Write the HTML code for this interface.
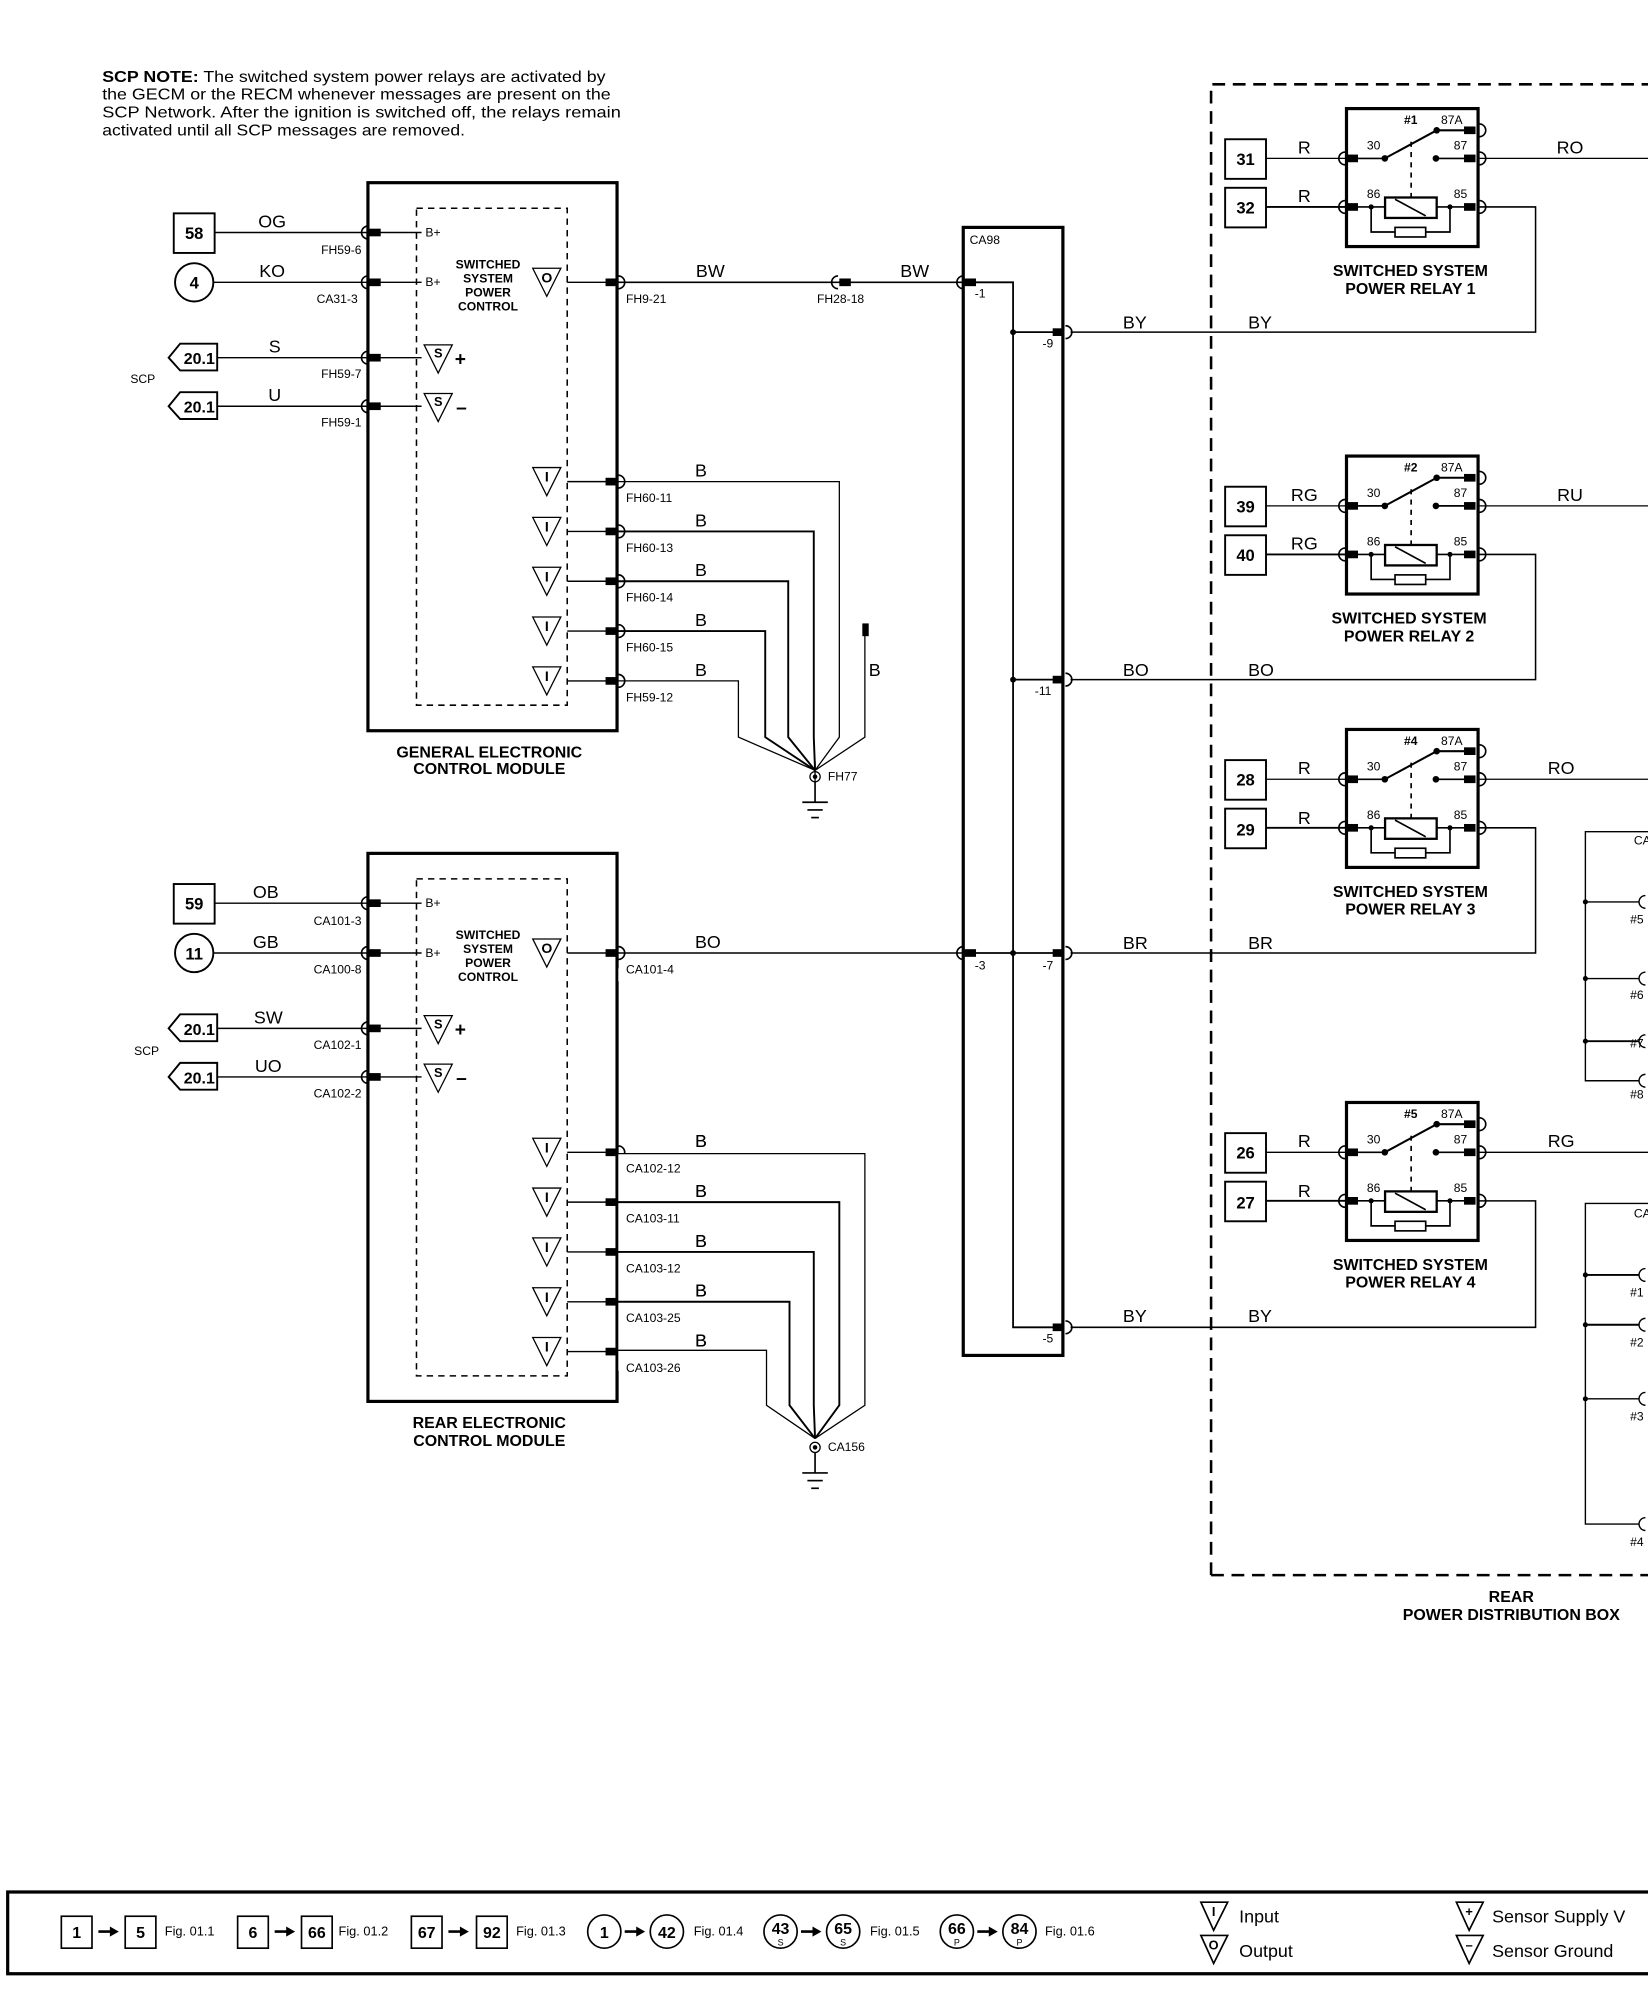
<!DOCTYPE html>
<html><head><meta charset="utf-8"><style>
html,body{margin:0;padding:0;background:#fff}
svg{display:block}
text{font-family:"Liberation Sans",Arial,sans-serif;fill:#000}
.w{font-size:14px}
.p{font-size:9.5px}
.t{font-size:12.5px;font-weight:bold}
.n{font-size:13px;font-weight:bold}
</style></head><body>
<svg width="1648" height="1998" viewBox="0 0 1290 1564" xmlns="http://www.w3.org/2000/svg">
<defs>
<g id="pl"><path d="M-1,-5 A5,5 0 0 0 -1,5" fill="none" stroke="#000" stroke-width="1.3"/><rect x="0" y="-3" width="9" height="6"/></g>
<g id="pr"><path d="M1,-5 A5,5 0 0 1 1,5" fill="none" stroke="#000" stroke-width="1.3"/><rect x="-9" y="-3" width="9" height="6"/></g>
<path id="tri" d="M-11,-11 L11,-11 L0,11 Z" fill="#fff" stroke="#000" stroke-width="1"/>
<g id="relay">
<rect x="0" y="0" width="103" height="108" fill="none" stroke="#000" stroke-width="2.5"/>
<g stroke="#000" stroke-width="1.3" fill="none">
<line x1="9" y1="39" x2="30" y2="39"/>
<line x1="30" y1="39" x2="70.6" y2="17" stroke-width="1.6"/>
<line x1="70.6" y1="17" x2="92" y2="17" stroke-width="1.6"/>
<line x1="70" y1="39" x2="92" y2="39"/>
<line x1="50.6" y1="26" x2="50.6" y2="69" stroke-dasharray="4,4"/>
<line x1="9" y1="77" x2="30" y2="77"/>
<line x1="70.6" y1="77" x2="92" y2="77"/>
<rect x="30.2" y="69.6" width="40.4" height="16" stroke-width="1.8"/>
<line x1="38" y1="71" x2="62" y2="84"/>
<polyline points="19.3,77 19.3,96.6 81,96.6 81,77"/>
<rect x="38" y="93" width="24" height="7.5" fill="#fff"/>
<path d="M-1,34 A5,5 0 0 0 -1,44 M-1,72 A5,5 0 0 0 -1,82 M104,12 A5,5 0 0 1 104,22 M104,34 A5,5 0 0 1 104,44 M104,72 A5,5 0 0 1 104,82"/>
</g>
<circle cx="30" cy="39" r="2.6"/><circle cx="70.6" cy="17" r="2.6"/><circle cx="70" cy="39" r="2.6"/>
<circle cx="19.3" cy="77" r="2"/><circle cx="81" cy="77" r="2"/>
<rect x="1" y="36" width="8" height="6"/><rect x="1" y="74" width="8" height="6"/>
<rect x="92" y="14" width="9" height="6"/><rect x="92" y="36" width="9" height="6"/><rect x="92" y="74" width="9" height="6"/>
<text class="p" x="16" y="32">30</text><text class="p" x="84" y="32">87</text>
<text class="p" x="16" y="70">86</text><text class="p" x="84" y="70">85</text>
<text class="p" x="74" y="12">87A</text>
<rect x="-95" y="24" width="32" height="31" fill="none" stroke="#000" stroke-width="1.5"/>
<rect x="-95" y="62" width="32" height="31" fill="none" stroke="#000" stroke-width="1.5"/>
<line x1="-63" y1="39" x2="0" y2="39" stroke="#000" stroke-width="1"/>
<line x1="-63" y1="77" x2="0" y2="77" stroke="#000" stroke-width="1.5"/>
<line x1="104" y1="39" x2="240" y2="39" stroke="#000" stroke-width="1"/>
</g>
<g id="gnd" stroke="#000" stroke-width="1.3"><line x1="0" y1="0" x2="0" y2="16"/><line x1="-10" y1="16" x2="10" y2="16"/><line x1="-6" y1="22" x2="6" y2="22"/><line x1="-3" y1="28" x2="3" y2="28"/></g>
</defs>

<!-- NOTE -->
<text x="80" y="64" style="font-size:12.5px" textLength="394" lengthAdjust="spacingAndGlyphs"><tspan font-weight="bold">SCP NOTE:</tspan> The switched system power relays are activated by</text>
<text x="80" y="78" style="font-size:12.5px" textLength="398" lengthAdjust="spacingAndGlyphs">the GECM or the RECM whenever messages are present on the</text>
<text x="80" y="92" style="font-size:12.5px" textLength="406" lengthAdjust="spacingAndGlyphs">SCP Network.  After the ignition is switched off, the relays remain</text>
<text x="80" y="106" style="font-size:12.5px" textLength="284" lengthAdjust="spacingAndGlyphs">activated until all SCP messages are removed.</text>

<!-- ===== GECM ===== -->
<g id="gecm">
<rect x="288" y="143" width="195" height="429" fill="none" stroke="#000" stroke-width="2.5"/>
<rect x="326" y="163" width="118" height="389" fill="none" stroke="#000" stroke-width="1.2" stroke-dasharray="5,4"/>
<g stroke="#000" stroke-width="1.1">
<line x1="168" y1="182" x2="330" y2="182"/>
<line x1="167" y1="221" x2="330" y2="221"/>
<line x1="170" y1="280" x2="330" y2="280"/>
<line x1="170" y1="318" x2="330" y2="318"/>
<line x1="444" y1="221" x2="481" y2="221"/>
<line x1="444" y1="377" x2="481" y2="377"/>
<line x1="444" y1="416" x2="481" y2="416"/>
<line x1="444" y1="455" x2="481" y2="455"/>
<line x1="444" y1="494" x2="481" y2="494"/>
<line x1="444" y1="533" x2="481" y2="533"/>
</g>
<use href="#pl" x="289" y="182"/><use href="#pl" x="289" y="221"/><use href="#pl" x="289" y="280"/><use href="#pl" x="289" y="318"/>
<use href="#pr" x="483" y="221"/><use href="#pr" x="483" y="377"/><use href="#pr" x="483" y="416"/><use href="#pr" x="483" y="455"/><use href="#pr" x="483" y="494"/><use href="#pr" x="483" y="533"/>
<text class="p" x="333" y="185">B+</text><text class="p" x="333" y="224">B+</text>
<text class="p" x="382" y="210" text-anchor="middle" font-weight="bold">SWITCHED</text>
<text class="p" x="382" y="221" text-anchor="middle" font-weight="bold">SYSTEM</text>
<text class="p" x="382" y="232" text-anchor="middle" font-weight="bold">POWER</text>
<text class="p" x="382" y="243" text-anchor="middle" font-weight="bold">CONTROL</text>
<use href="#tri" x="428" y="221"/><text x="428" y="221" text-anchor="middle" style="font-size:11px;font-weight:bold">O</text>
<use href="#tri" x="343" y="281"/><text x="343" y="280" text-anchor="middle" style="font-size:10px;font-weight:bold">S</text><text x="356" y="286" style="font-size:15px;font-weight:bold">+</text>
<use href="#tri" x="343" y="319"/><text x="343" y="318" text-anchor="middle" style="font-size:10px;font-weight:bold">S</text><text x="357" y="324" style="font-size:15px;font-weight:bold">–</text>
<use href="#tri" x="428" y="377"/><text x="428" y="377" text-anchor="middle" style="font-size:11px;font-weight:bold">I</text>
<use href="#tri" x="428" y="416"/><text x="428" y="416" text-anchor="middle" style="font-size:11px;font-weight:bold">I</text>
<use href="#tri" x="428" y="455"/><text x="428" y="455" text-anchor="middle" style="font-size:11px;font-weight:bold">I</text>
<use href="#tri" x="428" y="494"/><text x="428" y="494" text-anchor="middle" style="font-size:11px;font-weight:bold">I</text>
<use href="#tri" x="428" y="533"/><text x="428" y="533" text-anchor="middle" style="font-size:11px;font-weight:bold">I</text>
<text class="p" x="490" y="237">FH9-21</text>
<text class="p" x="490" y="393">FH60-11</text>
<text class="p" x="490" y="432">FH60-13</text>
<text class="p" x="490" y="471">FH60-14</text>
<text class="p" x="490" y="510">FH60-15</text>
<text class="p" x="490" y="549">FH59-12</text>
<text class="w" x="544" y="373">B</text><text class="w" x="544" y="412">B</text><text class="w" x="544" y="451">B</text><text class="w" x="544" y="490">B</text><text class="w" x="544" y="529">B</text>
</g>
<!-- GECM left -->
<rect x="136" y="167" width="32" height="31" fill="none" stroke="#000" stroke-width="1.5"/><text class="n" x="152" y="187" text-anchor="middle">58</text>
<circle cx="152" cy="221" r="15" fill="none" stroke="#000" stroke-width="1.5"/><text class="n" x="152" y="226" text-anchor="middle">4</text>
<path d="M170,269 L141,269 L132,280 L141,290 L170,290 Z" fill="none" stroke="#000" stroke-width="1.5"/><text class="t" x="156" y="285" text-anchor="middle">20.1</text>
<path d="M170,307 L141,307 L132,318 L141,328 L170,328 Z" fill="none" stroke="#000" stroke-width="1.5"/><text class="t" x="156" y="323" text-anchor="middle">20.1</text>
<text class="p" x="102" y="300">SCP</text>
<text class="w" x="213" y="178" text-anchor="middle">OG</text><text class="w" x="213" y="217" text-anchor="middle">KO</text>
<text class="w" x="215" y="276" text-anchor="middle">S</text><text class="w" x="215" y="314" text-anchor="middle">U</text>
<text class="p" x="283" y="199" text-anchor="end">FH59-6</text><text class="p" x="280" y="237" text-anchor="end">CA31-3</text>
<text class="p" x="283" y="296" text-anchor="end">FH59-7</text><text class="p" x="283" y="334" text-anchor="end">FH59-1</text>
<text class="t" x="383" y="593" text-anchor="middle">GENERAL ELECTRONIC</text>
<text class="t" x="383" y="606" text-anchor="middle">CONTROL MODULE</text>
<!-- GECM ground -->
<g stroke="#000" stroke-width="1" fill="none">
<polyline points="483,377 657,377 657,577 638,603"/>
<polyline points="483,416 637,416 637,577 638,603" stroke-width="1.5"/>
<polyline points="483,455 617,455 617,577 638,603" stroke-width="1.5"/>
<polyline points="483,494 599,494 599,577 638,603" stroke-width="1.5"/>
<polyline points="483,533 578,533 578,577 638,603"/>
<polyline points="677,492 677,577 638,603"/>
<line x1="638" y1="596" x2="638" y2="612"/>
<circle cx="638" cy="608" r="4"/>
</g>
<rect x="675" y="488" width="5" height="10"/>
<circle cx="638" cy="608" r="1.8"/>
<text class="w" x="680" y="529">B</text>
<text class="p" x="648" y="611">FH77</text>
<use href="#gnd" x="638" y="612"/>

<!-- BW wire -->
<g stroke="#000" stroke-width="1.2"><line x1="483" y1="221" x2="754" y2="221"/></g>
<use href="#pl" x="657" y="221"/>
<text class="w" x="556" y="217" text-anchor="middle">BW</text><text class="w" x="716" y="217" text-anchor="middle">BW</text>
<text class="p" x="658" y="237" text-anchor="middle">FH28-18</text>

<!-- ===== RECM ===== -->
<use href="#gecm" y="525"/>
<rect x="484" y="903" width="60" height="170" fill="#fff"/>
<rect x="484" y="758" width="60" height="10" fill="#fff"/>
<g stroke="#000" stroke-width="1.2"><line x1="483" y1="746" x2="754" y2="746"/></g>
<g fill="#fff"><rect x="489" y="750" width="60" height="14"/><rect x="489" y="906" width="60" height="12"/><rect x="489" y="945" width="60" height="12"/><rect x="489" y="984" width="60" height="12"/><rect x="489" y="1023" width="60" height="12"/><rect x="489" y="1062" width="60" height="12"/></g>
<text class="p" x="490" y="762">CA101-4</text>
<text class="p" x="490" y="918">CA102-12</text><text class="p" x="490" y="957">CA103-11</text><text class="p" x="490" y="996">CA103-12</text><text class="p" x="490" y="1035">CA103-25</text><text class="p" x="490" y="1074">CA103-26</text>
<text class="w" x="544" y="898">B</text><text class="w" x="544" y="937">B</text><text class="w" x="544" y="976">B</text><text class="w" x="544" y="1015">B</text><text class="w" x="544" y="1054">B</text>
<g stroke="#000" stroke-width="1" fill="none">
<polyline points="483,903 677,903 677,1100 638,1126"/>
<polyline points="483,941 657,941 657,1100 638,1126" stroke-width="1.5"/>
<polyline points="483,980 637,980 637,1100 638,1126" stroke-width="1.5"/>
<polyline points="483,1019 618,1019 618,1100 638,1126" stroke-width="1.5"/>
<polyline points="483,1057 600,1057 600,1100 638,1126"/>
<circle cx="638" cy="1133" r="4"/>
</g>
<circle cx="638" cy="1133" r="1.8"/>
<text class="w" x="544" y="742">BO</text>
<text class="p" x="648" y="1136">CA156</text>
<use href="#gnd" x="638" y="1137"/>
<rect x="136" y="692" width="32" height="31" fill="none" stroke="#000" stroke-width="1.5"/><text class="n" x="152" y="712" text-anchor="middle">59</text>
<circle cx="152" cy="746" r="15" fill="none" stroke="#000" stroke-width="1.5"/><text class="n" x="152" y="751" text-anchor="middle">11</text>
<path d="M170,794 L141,794 L132,805 L141,815 L170,815 Z" fill="none" stroke="#000" stroke-width="1.5"/><text class="t" x="156" y="810" text-anchor="middle">20.1</text>
<path d="M170,832 L141,832 L132,843 L141,853 L170,853 Z" fill="none" stroke="#000" stroke-width="1.5"/><text class="t" x="156" y="848" text-anchor="middle">20.1</text>
<text class="p" x="105" y="826">SCP</text>
<text class="w" x="208" y="703" text-anchor="middle">OB</text><text class="w" x="208" y="742" text-anchor="middle">GB</text>
<text class="w" x="210" y="801" text-anchor="middle">SW</text><text class="w" x="210" y="839" text-anchor="middle">UO</text>
<text class="p" x="283" y="724" text-anchor="end">CA101-3</text><text class="p" x="283" y="762" text-anchor="end">CA100-8</text>
<text class="p" x="283" y="821" text-anchor="end">CA102-1</text><text class="p" x="283" y="859" text-anchor="end">CA102-2</text>
<text class="t" x="383" y="1118" text-anchor="middle">REAR ELECTRONIC</text>
<text class="t" x="383" y="1132" text-anchor="middle">CONTROL MODULE</text>

<!-- ===== CA98 ===== -->
<rect x="754" y="178" width="78" height="883" fill="none" stroke="#000" stroke-width="2.5"/>
<text class="p" x="759" y="191">CA98</text>
<g stroke="#000" stroke-width="1.4" fill="none">
<polyline points="763,221 793,221 793,1039 830,1039"/>
<line x1="793" y1="260" x2="830" y2="260"/>
<line x1="793" y1="532" x2="830" y2="532"/>
<line x1="763" y1="746" x2="830" y2="746"/>
</g>
<use href="#pl" x="755" y="221"/><use href="#pl" x="755" y="746"/>
<use href="#pr" x="833" y="260"/><use href="#pr" x="833" y="532"/><use href="#pr" x="833" y="746"/><use href="#pr" x="833" y="1039"/>
<circle cx="793" cy="260" r="2.3"/><circle cx="793" cy="532" r="2.3"/><circle cx="793" cy="746" r="2.3"/>
<text class="p" x="763" y="233">-1</text><text class="p" x="763" y="759">-3</text>
<text class="p" x="816" y="272">-9</text><text class="p" x="810" y="544">-11</text><text class="p" x="816" y="759">-7</text><text class="p" x="816" y="1051">-5</text>
<g stroke="#000" stroke-width="1.2" fill="none">
<polyline points="838,260 1202,260 1202,162 1158,162"/>
<polyline points="838,532 1202,532 1202,434 1158,434"/>
<polyline points="838,746 1202,746 1202,648 1158,648"/>
<polyline points="838,1039 1202,1039 1202,940 1158,940"/>
</g>
<text class="w" x="879" y="257">BY</text><text class="w" x="977" y="257">BY</text>
<text class="w" x="879" y="529">BO</text><text class="w" x="977" y="529">BO</text>
<text class="w" x="879" y="743">BR</text><text class="w" x="977" y="743">BR</text>
<text class="w" x="879" y="1035">BY</text><text class="w" x="977" y="1035">BY</text>

<!-- PDB dashed -->
<path d="M948,1233 L948,66 L1295,66 M948,1233 L1295,1233" fill="none" stroke="#000" stroke-width="2" stroke-dasharray="10,6"/>
<text class="t" x="1183" y="1254" text-anchor="middle">REAR</text>
<text class="t" x="1183" y="1268" text-anchor="middle">POWER DISTRIBUTION BOX</text>

<!-- Relays -->
<use href="#relay" x="1054" y="85"/>
<use href="#relay" x="1054" y="357"/>
<use href="#relay" x="1054" y="571"/>
<use href="#relay" x="1054" y="863"/>
<g class="n" text-anchor="middle">
<text x="975" y="129">31</text><text x="975" y="167">32</text>
<text x="975" y="401">39</text><text x="975" y="439">40</text>
<text x="975" y="615">28</text><text x="975" y="654">29</text>
<text x="975" y="907">26</text><text x="975" y="946">27</text>
</g>
<g class="p" font-weight="bold"><text x="1099" y="97">#1</text><text x="1099" y="369">#2</text><text x="1099" y="583">#4</text><text x="1099" y="875">#5</text></g>
<g class="w" text-anchor="middle">
<text x="1021" y="120">R</text><text x="1021" y="158">R</text><text x="1229" y="120">RO</text>
<text x="1021" y="392">RG</text><text x="1021" y="430">RG</text><text x="1229" y="392">RU</text>
<text x="1021" y="606">R</text><text x="1021" y="645">R</text><text x="1222" y="606">RO</text>
<text x="1021" y="898">R</text><text x="1021" y="937">R</text><text x="1222" y="898">RG</text>
</g>
<g class="t" text-anchor="middle">
<text x="1104" y="216">SWITCHED SYSTEM</text><text x="1104" y="230">POWER RELAY 1</text>
<text x="1103" y="488">SWITCHED SYSTEM</text><text x="1103" y="502">POWER RELAY 2</text>
<text x="1104" y="702">SWITCHED SYSTEM</text><text x="1104" y="716">POWER RELAY 3</text>
<text x="1104" y="994">SWITCHED SYSTEM</text><text x="1104" y="1008">POWER RELAY 4</text>
</g>

<!-- right-edge CA boxes -->
<g stroke="#000" stroke-width="1.1" fill="none">
<polyline points="1295,651 1241,651 1241,846 1283,846"/>
<line x1="1241" y1="706" x2="1283" y2="706"/>
<line x1="1241" y1="766" x2="1283" y2="766"/>
<line x1="1241" y1="815" x2="1283" y2="815" stroke-width="1.5"/>
<path d="M1288,701 A5,5 0 0 0 1288,711 M1288,761 A5,5 0 0 0 1288,771 M1288,810 A5,5 0 0 0 1288,820 M1288,841 A5,5 0 0 0 1288,851"/>
<polyline points="1295,942 1241,942 1241,1193 1283,1193"/>
<line x1="1241" y1="998" x2="1283" y2="998" stroke-width="1.5"/>
<line x1="1241" y1="1037" x2="1283" y2="1037" stroke-width="1.5"/>
<line x1="1241" y1="1095" x2="1283" y2="1095"/>
<path d="M1288,993 A5,5 0 0 0 1288,1003 M1288,1032 A5,5 0 0 0 1288,1042 M1288,1090 A5,5 0 0 0 1288,1100 M1288,1188 A5,5 0 0 0 1288,1198"/>
</g>
<g><circle cx="1241" cy="706" r="2"/><circle cx="1241" cy="766" r="2"/><circle cx="1241" cy="815" r="2"/><circle cx="1241" cy="998" r="2"/><circle cx="1241" cy="1037" r="2"/><circle cx="1241" cy="1095" r="2"/></g>
<g class="p"><text x="1279" y="661">CA</text><text x="1276" y="723">#5</text><text x="1276" y="782">#6</text><text x="1276" y="820">#7</text><text x="1276" y="860">#8</text>
<text x="1279" y="953">CA</text><text x="1276" y="1015">#1</text><text x="1276" y="1054">#2</text><text x="1276" y="1112">#3</text><text x="1276" y="1210">#4</text></g>

<!-- Legend -->
<g stroke="#000" fill="none">
<path d="M1295,1481 L6,1481 L6,1545 L1295,1545" stroke-width="2.5"/>
<g stroke-width="1.3">
<rect x="48" y="1500" width="24" height="25"/><rect x="98" y="1500" width="24" height="25"/>
<rect x="186" y="1500" width="24" height="25"/><rect x="236" y="1500" width="24" height="25"/>
<rect x="322" y="1500" width="24" height="25"/><rect x="373" y="1500" width="24" height="25"/>
<circle cx="473" cy="1512" r="13"/><circle cx="522" cy="1512" r="13"/>
<circle cx="611" cy="1512" r="13"/><circle cx="660" cy="1512" r="13"/>
<circle cx="749" cy="1512" r="13"/><circle cx="798" cy="1512" r="13"/>
<path d="M940,1489 L961,1489 L950,1511 Z M940,1515 L961,1515 L950,1537 Z M1140,1489 L1161,1489 L1150,1511 Z M1140,1515 L1161,1515 L1150,1537 Z"/>
</g></g>
<g>
<path d="M77,1512 L89,1512 M215,1512 L227,1512 M351,1512 L363,1512 M489,1512 L501,1512 M627,1512 L639,1512 M765,1512 L777,1512" stroke="#000" stroke-width="2"/>
<path d="M93,1512 L86,1508 L86,1516 Z M231,1512 L224,1508 L224,1516 Z M367,1512 L360,1508 L360,1516 Z M505,1512 L498,1508 L498,1516 Z M643,1512 L636,1508 L636,1516 Z M781,1512 L774,1508 L774,1516 Z"/>
</g>
<g class="t" text-anchor="middle">
<text x="60" y="1517">1</text><text x="110" y="1517">5</text><text x="198" y="1517">6</text><text x="248" y="1517">66</text><text x="334" y="1517">67</text><text x="385" y="1517">92</text>
<text x="473" y="1517">1</text><text x="522" y="1517">42</text><text x="611" y="1514">43</text><text x="660" y="1514">65</text><text x="749" y="1514">66</text><text x="798" y="1514">84</text>
</g>
<g style="font-size:7px" text-anchor="middle"><text x="611" y="1523">S</text><text x="660" y="1523">S</text><text x="749" y="1523">P</text><text x="798" y="1523">P</text></g>
<g style="font-size:10px"><text x="129" y="1515">Fig. 01.1</text><text x="265" y="1515">Fig. 01.2</text><text x="404" y="1515">Fig. 01.3</text><text x="543" y="1515">Fig. 01.4</text><text x="681" y="1515">Fig. 01.5</text><text x="818" y="1515">Fig. 01.6</text></g>
<g style="font-size:10px;font-weight:bold" text-anchor="middle"><text x="950" y="1500">I</text><text x="950" y="1526">O</text><text x="1150" y="1500">+</text><text x="1150" y="1526">–</text></g>
<g style="font-size:14px"><text x="970" y="1505">Input</text><text x="970" y="1532">Output</text><text x="1168" y="1505">Sensor Supply V</text><text x="1168" y="1532">Sensor Ground</text></g>
</svg>
</body></html>
